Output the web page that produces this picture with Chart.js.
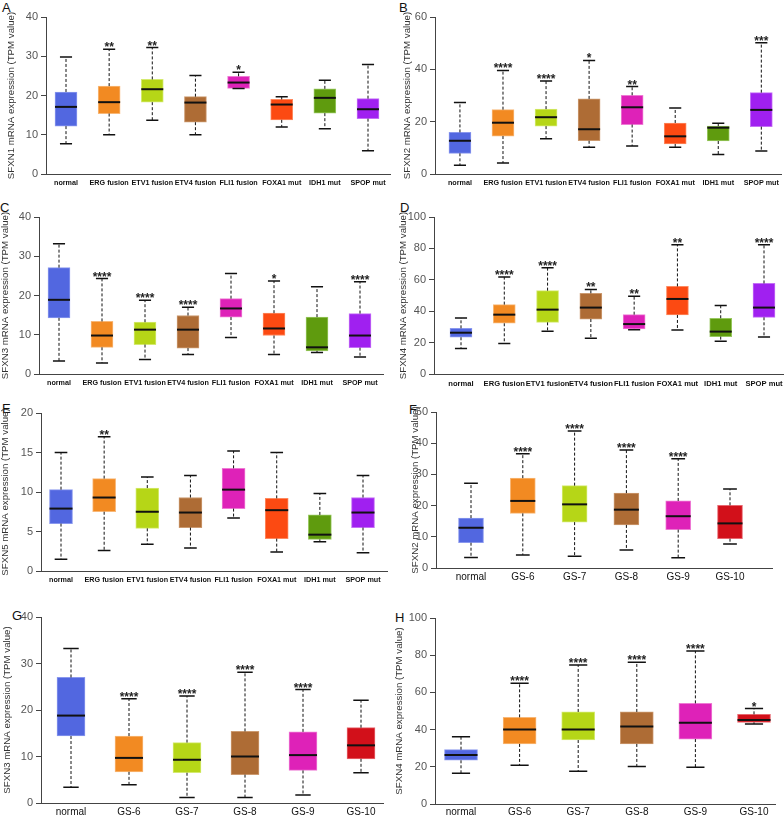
<!DOCTYPE html>
<html>
<head>
<meta charset="utf-8">
<script src="https://cdn.jsdelivr.net/npm/chart.js@4.4.0/dist/chart.umd.min.js"></script>
<style>
  body { margin: 0; width: 784px; height: 816px; overflow: hidden; background: #fff; position: relative;
         font-family: 'Liberation Sans', Arial, sans-serif; }
  canvas { position: absolute; }
  .tag { position: absolute; font-size: 13px; color: #111; line-height: 15px; }
</style>
</head>
<body>
<div class="tag" style="left:2px;top:0px">A</div>
<div class="tag" style="left:399px;top:0px">B</div>
<div class="tag" style="left:0px;top:200px">C</div>
<div class="tag" style="left:400px;top:200px">D</div>
<div class="tag" style="left:2px;top:401px">E</div>
<div class="tag" style="left:409px;top:402px">F</div>
<div class="tag" style="left:12px;top:608px">G</div>
<div class="tag" style="left:395px;top:610px">H</div>

<script>
// categories
const subtypeGroups = ['normal', 'ERG fusion', 'ETV1 fusion', 'ETV4 fusion', 'FLI1 fusion', 'FOXA1 mut', 'IDH1 mut', 'SPOP mut'];
const gleasonGroups = ['normal', 'GS-6', 'GS-7', 'GS-8', 'GS-9', 'GS-10'];

// each box: [min, q1, median, q3, max] in TPM
const sfxn1Subtype = [[7.7, 12.2, 17.1, 20.9, 29.8], [10.0, 15.4, 18.3, 22.4, 31.8], [13.7, 18.3, 21.6, 24.1, 32.2], [10.0, 13.2, 18.2, 19.7, 25.1],
                      [21.8, 21.8, 23.3, 24.9, 25.9], [12.0, 13.8, 17.7, 19.0, 19.7], [11.5, 15.5, 19.4, 21.7, 23.9], [5.9, 14.1, 16.5, 19.2, 27.9]];
const sfxn1SubtypeStars = ['', '**', '**', '', '*', '', '', ''];

const sfxn2Subtype = [[3.3, 7.9, 12.7, 15.9, 27.3], [4.2, 14.5, 19.6, 24.6, 39.6], [13.5, 18.3, 21.7, 24.8, 35.5], [10.2, 12.7, 17.1, 28.7, 43.4],
                      [10.7, 18.9, 25.5, 30.1, 33.4], [10.2, 11.5, 14.4, 19.5, 25.2], [7.5, 12.6, 17.7, 18.3, 19.4], [8.8, 18.1, 24.5, 31.1, 50.2]];
const sfxn2SubtypeStars = ['', '****', '****', '*', '**', '', '', '***'];

const sfxn3Subtype = [[3.3, 14.3, 18.9, 27.1, 33.2], [2.8, 6.8, 9.8, 13.4, 24.3], [3.7, 7.5, 11.3, 13.2, 18.8], [5.0, 6.6, 11.3, 14.9, 17.0],
                      [9.3, 14.5, 16.7, 19.2, 25.6], [5.0, 9.8, 11.6, 15.5, 23.7], [5.5, 5.9, 6.8, 14.5, 22.2], [4.3, 6.7, 9.8, 15.4, 23.5]];
const sfxn3SubtypeStars = ['', '****', '****', '****', '', '*', '', '****'];

const sfxn4Subtype = [[16.3, 23.4, 26.3, 29.1, 35.7], [19.5, 32.3, 37.8, 44.2, 61.8], [27.2, 32.9, 41.0, 53.1, 67.7], [22.7, 35.0, 42.3, 51.4, 53.9],
                      [28.2, 28.7, 31.8, 37.8, 49.5], [28.0, 37.6, 47.8, 55.8, 82.4], [20.8, 23.8, 27.0, 35.5, 43.7], [23.6, 36.1, 42.3, 57.7, 82.4]];
const sfxn4SubtypeStars = ['', '****', '****', '**', '**', '**', '', '****'];

const sfxn5Subtype = [[1.5, 6.0, 7.9, 10.3, 15.0], [2.6, 7.5, 9.3, 11.7, 17.0], [3.4, 5.4, 7.5, 10.5, 11.9], [2.9, 5.5, 7.4, 9.3, 12.1],
                      [6.7, 7.9, 10.3, 13.0, 15.2], [2.4, 4.1, 7.7, 9.2, 15.0], [3.7, 4.0, 4.6, 7.1, 9.8], [2.3, 5.5, 7.4, 9.3, 12.1]];
const sfxn5SubtypeStars = ['', '**', '', '', '', '', '', ''];

const sfxn2Gleason = [[3.4, 8.1, 12.9, 16.0, 27.2], [4.2, 17.5, 21.5, 28.8, 36.6], [3.8, 14.7, 20.4, 26.4, 43.9],
                      [5.8, 13.8, 18.7, 24.0, 37.8], [3.3, 12.3, 16.6, 21.5, 35.0], [7.7, 9.4, 14.3, 20.1, 25.3]];
const sfxn2GleasonStars = ['', '****', '****', '****', '****', ''];

const sfxn3Gleason = [[3.4, 14.4, 18.8, 27.0, 33.2], [3.9, 6.7, 9.7, 14.4, 22.4], [1.2, 6.5, 9.3, 13.0, 23.0],
                      [1.2, 6.1, 10.0, 15.4, 28.1], [1.7, 7.0, 10.3, 15.3, 24.4], [6.5, 9.5, 12.4, 16.2, 22.1]];
const sfxn3GleasonStars = ['', '****', '****', '****', '****', ''];

const sfxn4Gleason = [[16.5, 23.5, 26.3, 29.2, 36.2], [20.8, 32.3, 40.1, 46.6, 64.9], [17.6, 34.4, 40.1, 49.5, 74.7],
                      [20.1, 32.3, 41.6, 49.5, 76.2], [19.7, 34.9, 43.7, 54.1, 82.3], [43.0, 43.9, 45.2, 48.2, 51.3]];
const sfxn4GleasonStars = ['', '****', '****', '****', '****', '*'];

// colours
const subtypeFill = ['#5267e0', '#f28a22', '#b6d617', '#ae6c35', '#de22b8', '#fc4a12', '#5f9b0e', '#a020f0'];
const subtypeEdge = ['#8a98ee', '#f8b878', '#d4ea70', '#cc9a70', '#ee7ad4', '#fe8a60', '#98c860', '#c470f6'];
const gleasonFill = ['#5267e0', '#f28a22', '#b6d617', '#ae6c35', '#de22b8', '#d2101a'];
const gleasonEdge = ['#8a98ee', '#f8b878', '#d4ea70', '#cc9a70', '#ee7ad4', '#e86870'];

const smallBold = { family: "'Liberation Sans', Arial", size: 7.2, weight: 'bold' };
const wideBold = { family: "'Liberation Sans', Arial", size: 7.6, weight: 'bold' };
const plainLabel = { family: "'Liberation Sans', Arial", size: 10 };

// panel layout (pixels relative to each canvas)
const panels = [
  { x0: 0,   y0: 0,   w: 392, h: 200, left: 46, top: 17, bottom: 174, right: 390, firstC: 66, lastC: 368, titleX: 12, boxW: 22, labelPad: 5,
    labels: subtypeGroups, boxes: sfxn1Subtype, stars: sfxn1SubtypeStars, fill: subtypeFill, edge: subtypeEdge, yMax: 40, yStep: 10, font: smallBold, title: 'SFXN1 mRNA expression (TPM value)' },
  { x0: 392, y0: 0,   w: 392, h: 200, left: 43, top: 17, bottom: 174, right: 390, firstC: 68, lastC: 370, titleX: 16, boxW: 22, labelPad: 5,
    labels: subtypeGroups, boxes: sfxn2Subtype, stars: sfxn2SubtypeStars, fill: subtypeFill, edge: subtypeEdge, yMax: 60, yStep: 20, font: smallBold, title: 'SFXN2 mRNA expression (TPM value)' },
  { x0: 0,   y0: 200, w: 392, h: 200, left: 39, top: 17, bottom: 174, right: 383, firstC: 59, lastC: 360, titleX: 6, boxW: 22, labelPad: 5,
    labels: subtypeGroups, boxes: sfxn3Subtype, stars: sfxn3SubtypeStars, fill: subtypeFill, edge: subtypeEdge, yMax: 40, yStep: 10, font: smallBold, title: 'SFXN3 mRNA expression (TPM value)' },
  { x0: 392, y0: 200, w: 420, h: 200, left: 42, top: 17, bottom: 174, right: 404, firstC: 69, lastC: 372, titleX: 12, boxW: 22, labelPad: 5,
    labels: subtypeGroups, boxes: sfxn4Subtype, stars: sfxn4SubtypeStars, fill: subtypeFill, edge: subtypeEdge, yMax: 100, yStep: 20, font: wideBold, title: 'SFXN4 mRNA expression (TPM value)' },
  { x0: 0,   y0: 400, w: 392, h: 200, left: 41, top: 13, bottom: 171, right: 387, firstC: 61, lastC: 363, titleX: 6, boxW: 23, labelPad: 5,
    labels: subtypeGroups, boxes: sfxn5Subtype, stars: sfxn5SubtypeStars, fill: subtypeFill, edge: subtypeEdge, yMax: 20, yStep: 5, font: smallBold, title: 'SFXN5 mRNA expression (TPM value)' },
  { x0: 392, y0: 400, w: 392, h: 200, left: 44, top: 12, bottom: 168, right: 380, firstC: 79, lastC: 338, titleX: 24, boxW: 25, labelPad: 3,
    labels: gleasonGroups, boxes: sfxn2Gleason, stars: sfxn2GleasonStars, fill: gleasonFill, edge: gleasonEdge, yMax: 50, yStep: 10, font: plainLabel, title: 'SFXN2 mRNA expression (TPM value)' },
  { x0: 0,   y0: 600, w: 392, h: 216, left: 41, top: 17, bottom: 203, right: 383, firstC: 71, lastC: 361, titleX: 8, boxW: 28, labelPad: 3,
    labels: gleasonGroups, boxes: sfxn3Gleason, stars: sfxn3GleasonStars, fill: gleasonFill, edge: gleasonEdge, yMax: 40, yStep: 10, font: plainLabel, title: 'SFXN3 mRNA expression (TPM value)' },
  { x0: 392, y0: 600, w: 392, h: 216, left: 43, top: 18, bottom: 204, right: 383, firstC: 69, lastC: 362, titleX: 8, boxW: 33, labelPad: 2,
    labels: gleasonGroups, boxes: sfxn4Gleason, stars: sfxn4GleasonStars, fill: gleasonFill, edge: gleasonEdge, yMax: 100, yStep: 20, font: plainLabel, title: 'SFXN4 mRNA expression (TPM value)' }
];

// whiskers, caps, medians and significance stars on top of the floating bars
function whiskerPlugin(p) {
  return {
    id: 'whiskers',
    afterDatasetsDraw(chart) {
      const { ctx, scales: { x, y } } = chart;
      const meta = chart.getDatasetMeta(0);
      ctx.save();
      ctx.strokeStyle = '#111';
      p.boxes.forEach((b, i) => {
        const cx = x.getPixelForValue(i);
        const half = meta.data[i].width / 2;
        const cap = half * 0.55;
        const yMin = y.getPixelForValue(b[0]), yQ1 = y.getPixelForValue(b[1]);
        const yMed = y.getPixelForValue(b[2]), yQ3 = y.getPixelForValue(b[3]);
        const yMax = y.getPixelForValue(b[4]);
        ctx.lineWidth = 1;
        ctx.setLineDash([3, 2]);
        ctx.beginPath();
        ctx.moveTo(cx, yQ3); ctx.lineTo(cx, yMax);
        ctx.moveTo(cx, yQ1); ctx.lineTo(cx, yMin);
        ctx.stroke();
        ctx.setLineDash([]);
        ctx.lineWidth = 1.5;
        ctx.beginPath();
        ctx.moveTo(cx - cap, yMax); ctx.lineTo(cx + cap, yMax);
        ctx.moveTo(cx - cap, yMin); ctx.lineTo(cx + cap, yMin);
        ctx.stroke();
        ctx.lineWidth = 2;
        ctx.beginPath();
        ctx.moveTo(cx - half, yMed); ctx.lineTo(cx + half, yMed);
        ctx.stroke();
        if (p.stars[i]) {
          ctx.fillStyle = '#222';
          ctx.font = "bold 12px 'Liberation Sans', Arial";
          ctx.textAlign = 'center';
          ctx.textBaseline = 'alphabetic';
          ctx.fillText(p.stars[i], cx, yMax + 2);
        }
      });
      ctx.restore();
    }
  };
}

Chart.defaults.font.family = "'Liberation Sans', Arial, sans-serif";

panels.forEach(p => {
  const canvas = document.createElement('canvas');
  canvas.width = p.w; canvas.height = p.h;
  canvas.style.left = p.x0 + 'px';
  canvas.style.top = p.y0 + 'px';
  canvas.style.width = p.w + 'px';
  canvas.style.height = p.h + 'px';
  document.body.appendChild(canvas);

  const n = p.labels.length;
  const step = (p.lastC - p.firstC) / (n - 1);
  const xMin = -(p.firstC - p.left) / step;
  const xMax = (n - 1) + (p.right - p.lastC) / step;

  new Chart(canvas.getContext('2d'), {
    type: 'bar',
    data: {
      datasets: [{
        data: p.boxes.map((b, i) => ({ x: i, y: [b[1], b[3]] })),
        backgroundColor: p.fill,
        borderColor: p.edge,
        borderWidth: 1,
        borderSkipped: false,
        barThickness: p.boxW
      }]
    },
    options: {
      responsive: false,
      animation: false,
      devicePixelRatio: 1,
      layout: { padding: { top: p.top, right: p.w - p.right, bottom: 0, left: 0 } },
      plugins: { legend: { display: false }, tooltip: { enabled: false } },
      scales: {
        x: {
          type: 'linear', min: xMin, max: xMax, offset: false,
          grid: { display: false, drawTicks: false },
          border: { display: true, color: '#444', width: 1 },
          afterBuildTicks: s => { s.ticks = p.labels.map((_, i) => ({ value: i })); },
          afterFit: s => { s.height = p.h - p.bottom; },
          ticks: { autoSkip: false, maxRotation: 0, padding: p.labelPad, color: '#111', font: p.font,
                   callback: v => p.labels[v] }
        },
        y: {
          min: 0, max: p.yMax,
          grid: { display: true, drawOnChartArea: false, drawTicks: true, tickLength: 5, color: '#444' },
          border: { display: true, color: '#444', width: 1 },
          ticks: { stepSize: p.yStep, color: '#555', font: { size: 11 }, padding: 3 },
          title: { display: true, text: p.title, color: '#333', font: { size: 9.7 }, padding: { top: p.titleX - 6, bottom: 0 } },
          afterFit: s => { s.width = p.left; }
        }
      }
    },
    plugins: [whiskerPlugin(p)]
  });
});
</script>
</body>
</html>
